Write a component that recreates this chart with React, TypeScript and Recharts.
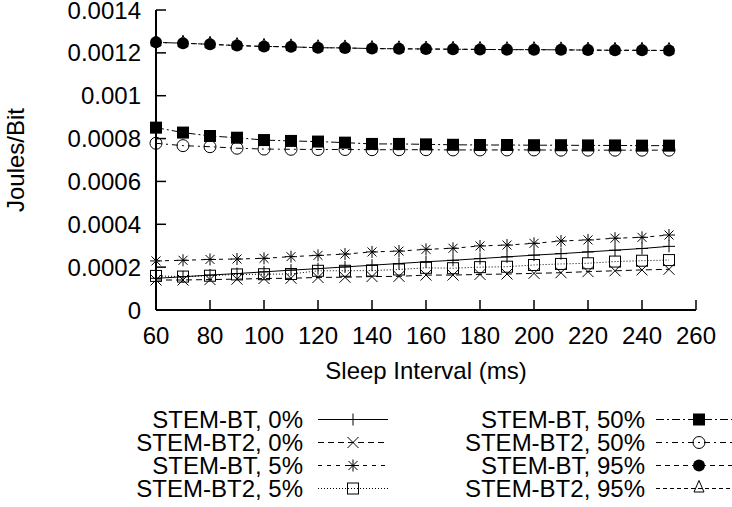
import React from 'react';
import { LineChart, Line, XAxis, YAxis, Legend } from 'recharts';

if (typeof document !== 'undefined') {
  document.body.style.margin = '0';
}

const sleepIntervals = [60, 70, 80, 90, 100, 110, 120, 130, 140, 150, 160, 170, 180, 190, 200, 210, 220, 230, 240, 250];

const stemBt0 = [0.000148, 0.000155, 0.000163, 0.00017, 0.000178, 0.000186, 0.000193, 0.000201, 0.000209, 0.000217, 0.000225, 0.000232, 0.00024, 0.000248, 0.000256, 0.000263, 0.000271, 0.000279, 0.000287, 0.000297];
const stemBt2_0 = [0.00014, 0.00014, 0.000142, 0.000144, 0.000147, 0.000148, 0.000152, 0.000153, 0.000156, 0.000157, 0.000163, 0.000163, 0.000166, 0.000168, 0.000171, 0.000174, 0.000179, 0.000183, 0.000187, 0.00019];
const stemBt5 = [0.000229, 0.000232, 0.000236, 0.000238, 0.000241, 0.000249, 0.000255, 0.000261, 0.000271, 0.000275, 0.000283, 0.000288, 0.000299, 0.000303, 0.000311, 0.000322, 0.000327, 0.000335, 0.000339, 0.00035];
const stemBt2_5 = [0.000159, 0.000156, 0.00016, 0.000166, 0.000167, 0.000168, 0.000183, 0.000183, 0.000184, 0.000189, 0.000197, 0.000195, 0.0002, 0.000202, 0.00021, 0.000215, 0.000218, 0.000226, 0.00023, 0.000233];
const stemBt50 = [0.000851, 0.000828, 0.000812, 0.000804, 0.000793, 0.000789, 0.000786, 0.000781, 0.000775, 0.000775, 0.000773, 0.000771, 0.00077, 0.00077, 0.000769, 0.000769, 0.000768, 0.000768, 0.000767, 0.000767];
const stemBt2_50 = [0.000778, 0.000767, 0.000762, 0.000755, 0.000751, 0.00075, 0.000749, 0.000749, 0.000748, 0.000748, 0.000748, 0.000747, 0.000747, 0.000747, 0.000747, 0.000746, 0.000746, 0.000746, 0.000746, 0.000746];
const stemBt95 = [0.001249, 0.001245, 0.00124, 0.001234, 0.00123, 0.001228, 0.001224, 0.001223, 0.00122, 0.001219, 0.001218, 0.001217, 0.001216, 0.001215, 0.001215, 0.001214, 0.001213, 0.001212, 0.001212, 0.001211];
const stemBt2_95 = [0.001249, 0.001245, 0.00124, 0.001234, 0.00123, 0.001228, 0.001224, 0.001223, 0.00122, 0.001219, 0.001218, 0.001217, 0.001216, 0.001215, 0.001215, 0.001214, 0.001213, 0.001212, 0.001212, 0.001211];

const seriesKeys = ['bt0', 'bt2_0', 'bt5', 'bt2_5', 'bt50', 'bt2_50', 'bt95', 'bt2_95'];
const seriesNames = ['STEM-BT, 0%', 'STEM-BT2, 0%', 'STEM-BT, 5%', 'STEM-BT2, 5%', 'STEM-BT, 50%', 'STEM-BT2, 50%', 'STEM-BT, 95%', 'STEM-BT2, 95%'];
const seriesValues = [stemBt0, stemBt2_0, stemBt5, stemBt2_5, stemBt50, stemBt2_50, stemBt95, stemBt2_95];

const xTicks = [60, 80, 100, 120, 140, 160, 180, 200, 220, 240, 260];
const yTicks = [0, 0.0002, 0.0004, 0.0006, 0.0008, 0.001, 0.0012, 0.0014];

const xLabel = 'Sleep Interval (ms)';
const yLabel = 'Joules/Bit';

const data = sleepIntervals.map((x, i) => {
  const row: Record<string, number> = { x };
  seriesKeys.forEach((k, j) => {
    row[k] = seriesValues[j][i];
  });
  return row;
});

type MarkerType = 'plus' | 'cross' | 'star' | 'square' | 'fsquare' | 'circle' | 'fcircle' | 'triangle';

const styleByKey: Record<string, { marker: MarkerType; dash?: string }> = {
  bt0: { marker: 'plus' },
  bt2_0: { marker: 'cross', dash: '6 4' },
  bt5: { marker: 'star', dash: '4 5' },
  bt2_5: { marker: 'square', dash: '1 2' },
  bt50: { marker: 'fsquare', dash: '8 3 2 3' },
  bt2_50: { marker: 'circle', dash: '6 4 2 4' },
  bt95: { marker: 'fcircle', dash: '5 4' },
  bt2_95: { marker: 'triangle', dash: '4 3' },
};

const FONT = "'Liberation Sans', Arial, Helvetica, sans-serif";

function Marker({ type, cx, cy }: { type: MarkerType; cx: number; cy: number }) {
  const s = 6;
  const st = { stroke: '#000', strokeWidth: 1, fill: 'none' };
  if (cx == null || cy == null || isNaN(cx) || isNaN(cy)) return null;
  switch (type) {
    case 'plus':
      return <path d={`M${cx - s},${cy}H${cx + s}M${cx},${cy - s}V${cy + s}`} {...st} />;
    case 'cross':
      return <path d={`M${cx - 5.5},${cy - 5.5}L${cx + 5.5},${cy + 5.5}M${cx - 5.5},${cy + 5.5}L${cx + 5.5},${cy - 5.5}`} {...st} />;
    case 'star':
      return (
        <path
          d={`M${cx - s},${cy}H${cx + s}M${cx},${cy - s}V${cy + s}M${cx - 4.5},${cy - 4.5}L${cx + 4.5},${cy + 4.5}M${cx - 4.5},${cy + 4.5}L${cx + 4.5},${cy - 4.5}`}
          {...st}
        />
      );
    case 'square':
      return <rect x={cx - 5.5} y={cy - 5.5} width={11} height={11} {...st} />;
    case 'fsquare':
      return <rect x={cx - 6} y={cy - 6} width={12} height={12} fill="#000" stroke="none" />;
    case 'circle':
      return <circle cx={cx} cy={cy} r={6} {...st} />;
    case 'fcircle':
      return <circle cx={cx} cy={cy} r={6} fill="#000" stroke="none" />;
    case 'triangle':
      return <path d={`M${cx},${cy - 8}L${cx + 5},${cy + 3.5}L${cx - 5},${cy + 3.5}Z`} {...st} />;
    default:
      return null;
  }
}

const drawOrder = ['bt2_95', 'bt0', 'bt2_0', 'bt5', 'bt2_5', 'bt50', 'bt2_50', 'bt95'];

function LegendContent() {
  const rows = [0, 1, 2, 3];
  const cols = [
    { textEnd: 303, x1: 318, x2: 388, mx: 353 },
    { textEnd: 645, x1: 656, x2: 742, mx: 699 },
  ];
  return (
    <svg width={732} height={107} style={{ display: 'block', overflow: 'hidden' }}>
      {cols.map((c, ci) =>
        rows.map((r) => {
          const idx = ci * 4 + r;
          const key = seriesKeys[idx];
          const st = styleByKey[key];
          const base = 28 + r * 23;
          const ly = base - 8.5;
          return (
            <g key={key}>
              <text x={c.textEnd} y={base} textAnchor="end" fontFamily={FONT} fontSize={24} fill="#000">
                {seriesNames[idx]}
              </text>
              <line x1={c.x1} x2={c.x2} y1={ly} y2={ly} stroke="#000" strokeWidth={1} strokeDasharray={st.dash} />
              <Marker type={st.marker} cx={c.mx} cy={ly} />
            </g>
          );
        })
      )}
    </svg>
  );
}

export default function App() {
  const tickStyle = { fill: '#000', fontSize: 24, fontFamily: FONT };
  const axisLine = { stroke: '#000', strokeWidth: 2 };
  const tickLine = { stroke: '#000', strokeWidth: 1.5 };
  return (
    <div style={{ width: 732, height: 507, background: '#fff', position: 'relative' }}>
      <LineChart width={732} height={507} data={data} margin={{ top: 10, right: 36, bottom: 122, left: 0 }}>
        <XAxis
          xAxisId="b"
          dataKey="x"
          type="number"
          domain={[60, 260]}
          ticks={xTicks}
          interval={0}
          tickSize={-10}
          tickMargin={27}
          height={75}
          axisLine={axisLine}
          tickLine={tickLine}
          tick={tickStyle}
          label={{ value: xLabel, position: 'insideBottom', offset: 6, fill: '#000', fontSize: 24, fontFamily: FONT }}
        />
        <XAxis
          xAxisId="t"
          orientation="top"
          dataKey="x"
          type="number"
          domain={[60, 260]}
          ticks={xTicks}
          interval={0}
          tickSize={-10}
          height={0}
          axisLine={axisLine}
          tickLine={tickLine}
          tick={false}
        />
        <YAxis
          yAxisId="l"
          type="number"
          domain={[0, 0.0014]}
          ticks={yTicks}
          interval={0}
          tickSize={-10}
          tickMargin={25}
          width={156}
          axisLine={axisLine}
          tickLine={tickLine}
          tick={tickStyle}
          tickFormatter={(v: number) => String(v)}
          label={{
            value: yLabel,
            angle: -90,
            position: 'insideLeft',
            offset: 15,
            fill: '#000',
            fontSize: 24,
            fontFamily: FONT,
            style: { textAnchor: 'middle' },
          }}
        />
        <YAxis
          yAxisId="r"
          orientation="right"
          type="number"
          domain={[0, 0.0014]}
          ticks={yTicks}
          interval={0}
          tickSize={-10}
          width={0}
          axisLine={axisLine}
          tickLine={tickLine}
          tick={false}
        />
        {drawOrder.map((key) => {
          const idx = seriesKeys.indexOf(key);
          const st = styleByKey[key];
          return (
            <Line
              key={key}
              xAxisId="b"
              yAxisId="l"
              type="linear"
              dataKey={key}
              name={seriesNames[idx]}
              stroke="#000"
              strokeWidth={1}
              strokeDasharray={st.dash}
              isAnimationActive={false}
              dot={(p: any) => <Marker key={`${key}-${p.index}`} type={st.marker} cx={p.cx} cy={p.cy} />}
              activeDot={false}
            />
          );
        })}
        <Legend
          layout="vertical"
          align="center"
          verticalAlign="middle"
          wrapperStyle={{ position: 'absolute', left: 0, top: 400, width: 732, height: 107, margin: 0, padding: 0 }}
          content={() => <LegendContent />}
        />
      </LineChart>
    </div>
  );
}
